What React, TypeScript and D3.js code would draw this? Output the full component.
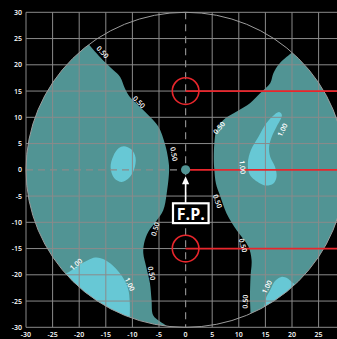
import React from 'react';
import * as d3 from 'd3';

const W = 337;
const H = 339;

// axis ticks (degrees)
const ticks = [-30, -25, -20, -15, -10, -5, 0, 5, 10, 15, 20, 25, 30];
const tickLabels = ticks.map((t) => String(t));
// x labels that fall inside the visible window
const xLabelTicks = [-30, -25, -20, -15, -10, -5, 0, 5, 10, 15, 20, 25];

// 0.50 contour, left region (inner boundary, top -> bottom)
const leftContour050: [number, number][] = [
  [-19.5, 25.5], [-16.1, 21.5], [-13.6, 19.0], [-12.3, 17.7], [-11.4, 15.5], [-10.5, 13.9],
  [-8.6, 12.0], [-6.7, 10.1], [-5.1, 8.2], [-3.9, 5.0], [-3.25, 1.9], [-3.1, 0.0],
  [-3.55, -4.5], [-4.2, -7.7], [-5.4, -9.6], [-7.0, -11.8], [-7.8, -14.0], [-7.95, -15.9],
  [-7.4, -18.5], [-6.7, -21.6], [-6.4, -24.8], [-6.1, -27.7], [-4.8, -28.9], [-3.5, -29.8], [-2.5, -31.0],
];
const leftOuter050: [number, number][] = [[-2.5, -40], [-40, -40], [-40, 40], [-19.5, 40]];

// 0.50 contour, right region (inner boundary, top -> bottom)
const rightContour050: [number, number][] = [
  [21.5, 23.5], [17.7, 20.3], [16.5, 18.4], [15.9, 16.5], [14.0, 14.6], [12.1, 12.7],
  [9.6, 11.1], [7.1, 9.5], [5.8, 7.6], [5.4, 5.0], [5.3, 2.0], [5.4, 0.0], [5.7, -2.6],
  [6.5, -5.0], [7.7, -8.3], [9.6, -11.5], [11.8, -14.6], [12.4, -17.2], [12.2, -20.4],
  [12.1, -24.2], [12.2, -27.3], [12.3, -31.0],
];
const rightOuter050: [number, number][] = [[12.3, -40], [40, -40], [40, 40], [21.5, 40]];

// 1.00 contours
const leftBlob100: [number, number][] = [
  [-11.6, 4.5], [-10.2, 3.9], [-9.4, 2.3], [-9.7, 0.0], [-10.6, -1.5], [-12.0, -2.3],
  [-13.4, -1.6], [-14.1, 0.5], [-13.6, 2.6], [-12.6, 4.1],
];
const bottomLeftContour100: [number, number][] = [
  [-23.5, -20.2], [-22.0, -19.5], [-19.8, -18.0], [-17.0, -16.7], [-15.5, -17.0], [-13.6, -18.3],
  [-12.0, -20.2], [-10.8, -22.7], [-10.5, -25.2], [-10.5, -29.0], [-10.5, -33.0],
];
const bottomLeftOuter100: [number, number][] = [[-40, -33], [-40, -20.2]];

const rightBlob100: [number, number][] = [
  [17.6, 11.0], [18.1, 10.4], [17.1, 8.2], [16.2, 6.3], [15.7, 4.4], [15.9, 2.5], [16.8, 0.6],
  [17.1, -1.3], [16.5, -2.6], [15.2, -3.0], [14.0, -2.6], [12.1, -1.0], [11.7, 1.2],
  [12.3, 3.8], [13.7, 6.3], [15.2, 8.9], [16.8, 10.6],
];
const bottomRightContour100: [number, number][] = [
  [14.2, -28.0], [14.9, -25.4], [15.2, -24.2], [15.9, -22.9], [16.8, -21.2], [18.0, -20.4],
  [19.2, -20.7], [19.9, -21.3], [21.5, -22.5],
];
const bottomRightOuter100: [number, number][] = [[21.5, -40], [14.2, -40]];

// stimulus targets
const targetYs = [15, -15];
const targetRadius = 2.5;
const fixation: [number, number] = [0, 0];

// contour labels
const labelTexts = ['0.50', '0.50', '0.50', '0.50', '0.50', '1.00', '1.00', '0.50', '1.00', '1.00', '0.50', '0.50', '0.50', '1.00'];
const labelXs = [-15.6, -8.75, -2.2, -5.7, -6.4, -20.6, -10.5, 6.3, 18.2, 10.7, 6.0, 10.8, 11.2, 15.3];
const labelYs = [22.4, 12.9, 3.0, -11.3, -19.7, -18.0, -21.8, 8.0, 7.6, 0.5, -6.0, -14.4, -25.1, -22.3];
const labelAngles = [48, 45, 80, -74, 78, -42, 64, -50, -63, 85, 70, 75, -88, -63];

const C_FILL050 = '#519494';
const C_FILL100 = '#67c8d5';
const C_GRID = '#8a8a8a';
const C_RED = '#e8262c';

export default function App() {
  const x = d3.scaleLinear().domain([-30, 30]).range([26, 345.2]);
  const y = d3.scaleLinear().domain([-30, 30]).range([327.3, 12.3]);

  const line = d3
    .line<[number, number]>()
    .x((d) => x(d[0]))
    .y((d) => y(d[1]))
    .curve(d3.curveCatmullRom.alpha(0.5));
  const closed = d3
    .line<[number, number]>()
    .x((d) => x(d[0]))
    .y((d) => y(d[1]))
    .curve(d3.curveCatmullRomClosed.alpha(0.5));

  const region = (pts: [number, number][], outer: [number, number][]) =>
    (line(pts) || '') + outer.map((p) => `L${x(p[0])},${y(p[1])}`).join('') + 'Z';

  const cx = x(0);
  const cy = y(0);
  const rx = x(30) - x(0);
  const ry = y(-30) - y(0);
  const font = "'Open Sans', 'DejaVu Sans', sans-serif";

  return (
    <svg
      width={W}
      height={H}
      style={{ position: 'absolute', left: 0, top: 0, display: 'block' }}
      fontFamily={font}
    >
      <defs>
        <clipPath id="field">
          <ellipse cx={cx} cy={cy} rx={rx} ry={ry} />
        </clipPath>
      </defs>
      <rect x={0} y={0} width={W} height={H} fill="#000" />

      <g clipPath="url(#field)">
        <path d={region(leftContour050, leftOuter050)} fill={C_FILL050} />
        <path d={region(rightContour050, rightOuter050)} fill={C_FILL050} />
        <path d={closed(leftBlob100) || ''} fill={C_FILL100} />
        <path d={closed(rightBlob100) || ''} fill={C_FILL100} />
        <path d={region(bottomLeftContour100, bottomLeftOuter100)} fill={C_FILL100} />
        <path d={region(bottomRightContour100, bottomRightOuter100)} fill={C_FILL100} />
      </g>

      {/* grid */}
      <g stroke={C_GRID} strokeWidth={1}>
        {ticks
          .filter((t) => t !== 0)
          .map((t) => (
            <line key={'v' + t} x1={x(t)} x2={x(t)} y1={y(30)} y2={y(-30)} />
          ))}
        {ticks
          .filter((t) => t !== 0)
          .map((t) => (
            <line key={'h' + t} x1={x(-30)} x2={x(30)} y1={y(t)} y2={y(t)} />
          ))}
      </g>
      <g stroke={C_GRID} strokeWidth={1.2} strokeDasharray="7,5">
        <line x1={x(0)} x2={x(0)} y1={y(30)} y2={y(-30)} />
        <line x1={x(-30)} x2={x(0)} y1={y(0)} y2={y(0)} />
      </g>
      <ellipse cx={cx} cy={cy} rx={rx} ry={ry} fill="none" stroke="#9c9c9c" strokeWidth={1} />

      {/* targets */}
      {targetYs.map((t) => (
        <g key={'t' + t}>
          <circle cx={x(0)} cy={y(t)} r={x(targetRadius) - x(0)} fill="none" stroke={C_RED} strokeWidth={1.6} />
          <line x1={x(0)} x2={x(30)} y1={y(t)} y2={y(t)} stroke={C_RED} strokeWidth={1.8} />
        </g>
      ))}
      <line x1={x(fixation[0])} x2={x(30)} y1={y(fixation[1])} y2={y(fixation[1])} stroke={C_RED} strokeWidth={1.8} />
      <circle cx={x(fixation[0])} cy={y(fixation[1])} r={4.6} fill={C_FILL050} />

      {/* contour labels */}
      <g fill="#fff" fontSize={7} fontWeight={600}>
        {labelTexts.map((txt, i) => (
          <text
            key={'l' + i}
            transform={`translate(${x(labelXs[i])},${y(labelYs[i])}) rotate(${labelAngles[i]})`}
            textAnchor="middle"
            dominantBaseline="central"
          >
            {txt}
          </text>
        ))}
      </g>

      {/* F.P. annotation */}
      <g>
        <line x1={cx} x2={cx} y1={cy + 13} y2={cy + 33} stroke="#fff" strokeWidth={1.6} />
        <path d={`M${cx},${cy + 6.5} L${cx - 3.6},${cy + 14.5} L${cx + 3.6},${cy + 14.5} Z`} fill="#fff" />
        <rect x={cx - 12.6} y={cy + 33.5} width={35.6} height={19.8} fill="#000" stroke="#fff" strokeWidth={2.2} />
        <text x={cx + 5.2} y={cy + 44} fill="#fff" fontSize={16} fontWeight={700} textAnchor="middle" dominantBaseline="central">
          F.P.
        </text>
      </g>

      {/* tick labels */}
      <g fill="#fff" fontSize={7} fontWeight={600}>
        {ticks.map((t, i) => (
          <text key={'yl' + t} x={22} y={y(t)} textAnchor="end" dominantBaseline="central">
            {tickLabels[i]}
          </text>
        ))}
        {xLabelTicks.map((t) => (
          <text key={'xl' + t} x={x(t)} y={334} textAnchor="middle" dominantBaseline="central">
            {String(t)}
          </text>
        ))}
      </g>
    </svg>
  );
}
